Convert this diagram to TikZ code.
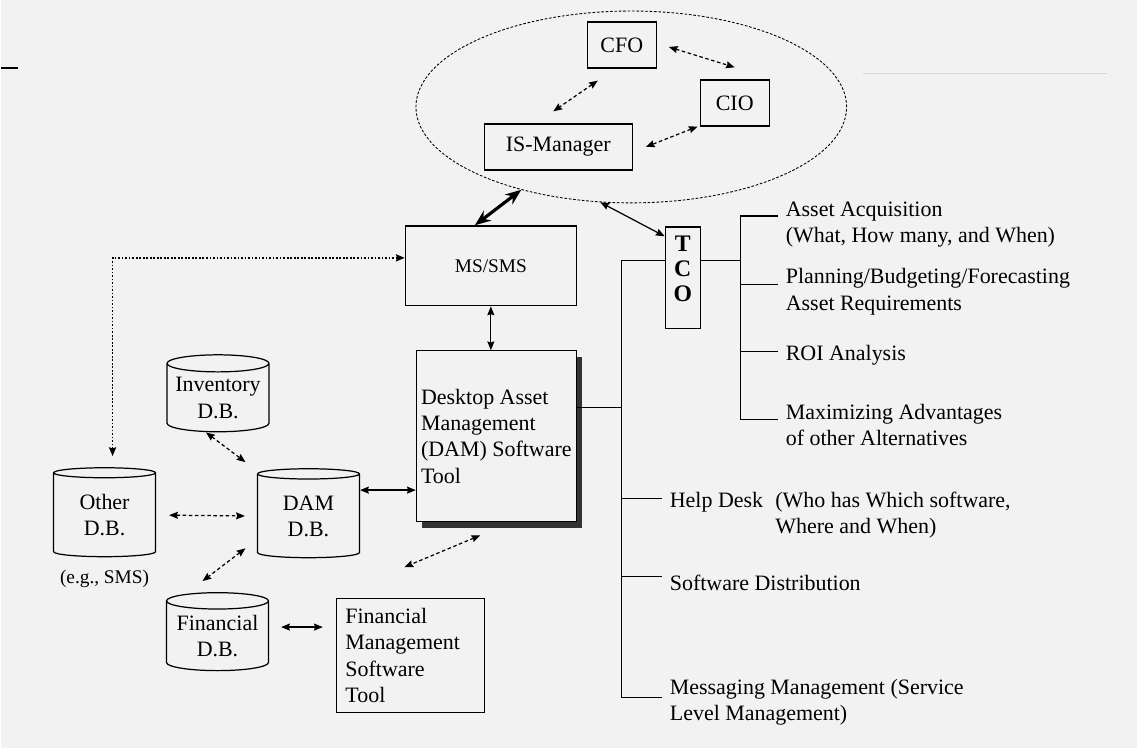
\documentclass[tikz,border=0pt]{standalone}
\usepackage{fontspec}
\setmainfont{Liberation Serif}
\usetikzlibrary{calc,positioning,shapes.geometric,shadows,arrows.meta}

\begin{document}
\begin{tikzpicture}[x=0.02cm, y=-0.02cm, >={Stealth[length=5pt, width=4pt, inset=0.6pt]}, line width=0.7pt,
    font=\fontsize{12.5}{15}\selectfont,
    box/.style={draw, rectangle, inner sep=0pt},
    db/.style={draw, cylinder, shape border rotate=90, aspect=0.2, anchor=shape center, align=center, inner sep=0pt, minimum width=2.04cm},
    dasharr/.style={<->, dash pattern=on 2pt off 1.5pt},
    dotarr/.style={<->, line width=1pt, dash pattern=on 1pt off 1pt},
    item/.style={align=left, inner sep=0pt}]
  \fill[black!5] (0,0) rectangle (1137,748);
  \draw (0,68) -- (17,68);
  \draw[black!15, line width=0.4pt] (863,73) -- (1107,73);
  % management group
  \node[draw, ellipse, dash pattern=on 1.5pt off 1pt, line width=0.5pt, minimum width=8.62cm, minimum height=3.84cm] (board) at (631,107) {};
  \node[box, minimum width=1.38cm, minimum height=0.92cm] (cfo) at (621.5,45) {CFO};
  \node[box, minimum width=1.38cm, minimum height=0.92cm] (cio) at (734.5,103) {CIO};
  \node[box, minimum width=2.96cm, minimum height=0.92cm] (ism) at (558,147) {IS-Manager};
  \draw[dasharr] ($(cfo.south)+(-24,12)$) -- ($(ism.north)+(-5,-12)$);
  \draw[dasharr] ($(cfo.east)+(12,2)$) -- ($(cio.north)+(0,-12)$);
  \draw[dasharr] ($(cio.south west)+(-2,0)$) -- ($(ism.east)+(13,0)$);
  % tools
  \node[box, minimum width=3.42cm, minimum height=1.6cm, font=\fontsize{11}{13}\selectfont] (ms) at (490.5,266) {MS/SMS};
  \node[box, fill=black!5, drop shadow={shadow xshift=0.12cm, shadow yshift=-0.12cm, fill=black!80, opacity=1},
    minimum width=3.2cm, minimum height=3.42cm, align=left] (dam) at (496,436.5)
    {Desktop Asset\\Management\\(DAM) Software\\Tool};
  \node[box, minimum width=0.7cm, minimum height=2.04cm] (tco) at (682.5,278) {};
  \node[align=center, font=\fontsize{13.5}{14.5}\selectfont\bfseries] (tcotxt) at ($(tco)+(0,-9)$) {T\\C\\O};
  \node[box, minimum height=2.28cm, text width=2.6cm, inner xsep=0.18cm, align=left] (fin) at (410,656)
    {Financial\\Management\\Software\\Tool};
  % databases
  \node[db, minimum height=1.54cm] (inv) at (217.5,393.5) {Inventory\\D.B.};
  \node[db, minimum height=1.78cm] (other) at (104,512.5) {Other\\D.B.};
  \node[db, minimum height=1.78cm] (damdb) at (308,513.5) {DAM\\D.B.};
  \node[db, minimum height=1.56cm] (findb) at (217,632) {Financial\\D.B.};
  \node[below=7pt of other, inner sep=0pt, font=\fontsize{11}{13}\selectfont] (eg) {(e.g., SMS)};
  % links
  \draw[{Stealth[length=9pt, width=7pt]}-{Stealth[length=9pt, width=7pt]}, line width=1.8pt] ($(ms.north)+(-16,0)$) -- (board.217);
  \draw[<->] (board.252) -- ($(tco.north west)+(0,10)$);
  \draw[<->] (ms.south) -- (ms.south |- dam.north);
  \draw[dotarr] ($(other.90)+(8,-11)$) |- ($(ms.west)+(0,-8)$);
  \draw[dasharr] ($(inv.270)+(-12,0)$) -- ($(damdb.90)+(-63,-6)$);
  \draw[dasharr, shorten <=0.26cm, shorten >=0.24cm] (other.0) -- (damdb.180);
  \draw[dasharr] ($(damdb.270)+(-63,-10)$) -- ($(findb.90)+(-15,-11)$);
  \draw[<->] ($(damdb.0)+(0,-26)$) coordinate (q1) -- (q1 -| dam.west);
  \draw[<->] ($(findb.0)+(12,-9)$) coordinate (q2) -- ($(q2 -| fin.west)+(-13,0)$);
  \draw[dasharr] ($(dam.south)+(-16,13)$) -- ($(fin.north)+(-6,-31)$);
  % TCO tree
  \coordinate (tj) at (740,261);
  \coordinate (r1) at (778,216);
  \coordinate (r2) at (778,285);
  \coordinate (r3) at (778,352);
  \coordinate (r4) at (778,420);
  \draw (tco.east |- tj) -- (tj);
  \draw (r1) -| (tj) |- (r4);
  \draw (r2 -| tj) -- (r2);
  \draw (r3 -| tj) -- (r3);
  \node[item, right=4pt of r1, yshift=-5pt] (acq) {Asset Acquisition\\(What, How many, and When)};
  \node[item, right=4pt of r2, yshift=-4pt] (plan) {Planning/Budgeting/Forecasting\\Asset Requirements};
  \node[item, right=4pt of r3, yshift=-2pt] (roi) {ROI Analysis};
  \node[item, right=4pt of r4, yshift=-3pt] (max) {Maximizing Advantages\\of other Alternatives};
  % DAM tree
  \coordinate (lj) at (621,261);
  \coordinate (dj) at (621,408);
  \coordinate (l1) at (662,499);
  \coordinate (l2) at (662,577);
  \coordinate (l3) at (662,698);
  \draw (tco.west |- lj) -- (lj) |- (l3);
  \draw (dam.east |- dj) -- (dj);
  \draw (l1 -| lj) -- (l1);
  \draw (l2 -| lj) -- (l2);
  \node[item, right=4pt of l1, yshift=-9.5pt] (help) {Help Desk\hspace{7pt}\begin{tabular}[t]{@{}l@{}}(Who has Which software,\\Where and When)\end{tabular}};
  \node[item, right=4pt of l2, yshift=-3.5pt] (dist) {Software Distribution};
  \node[item, right=4pt of l3, yshift=-2.5pt] (msg) {Messaging Management (Service\\Level Management)};
\end{tikzpicture}
\end{document}
